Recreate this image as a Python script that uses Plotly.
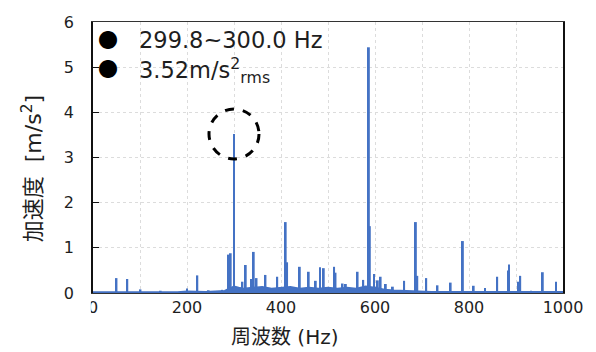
import plotly.graph_objects as go

# ---- data ----
peak_freq = [50, 73, 101, 144, 200, 222, 246, 275, 289, 293, 300, 318, 325, 337, 342, 348,
             367, 392, 410, 413, 440, 459, 474, 483, 491, 513, 516, 531, 538, 563, 575,
             587, 589, 598, 606, 612, 623, 638, 662, 687, 690, 709, 733, 761, 787, 810,
             834, 860, 883, 885, 905, 909, 932, 957, 985]
peak_amp = [0.33, 0.31, 0.08, 0.05, 0.10, 0.39, 0.06, 0.07, 0.85, 0.88, 3.52, 0.25, 0.62, 0.31, 0.91, 0.33,
            0.40, 0.36, 1.57, 0.68, 0.58, 0.47, 0.27, 0.57, 0.55, 0.58, 0.45, 0.21, 0.20, 0.47, 0.29,
            5.44, 1.48, 0.42, 0.28, 0.36, 0.20, 0.14, 0.27, 1.57, 0.38, 0.33, 0.17, 0.23, 1.15, 0.16,
            0.11, 0.36, 0.50, 0.63, 0.25, 0.38, 0.05, 0.46, 0.25]

floor_freq = [0, 20, 40, 60, 80, 100, 120, 140, 160, 180, 200, 220, 240, 260, 280, 290,
              300, 310, 320, 340, 360, 380, 400, 420, 440, 460, 480, 500, 520, 540, 560,
              580, 600, 620, 640, 660, 680, 700, 720, 740, 760, 780, 800, 820, 840, 860,
              880, 900, 920, 940, 960, 980, 1000]
floor_amp = [0.02, 0.02, 0.02, 0.02, 0.02, 0.03, 0.02, 0.03, 0.03, 0.02, 0.04, 0.03, 0.03, 0.04, 0.05, 0.10,
             0.15, 0.12, 0.10, 0.12, 0.14, 0.10, 0.12, 0.14, 0.10, 0.12, 0.10, 0.12, 0.10, 0.12, 0.10,
             0.15, 0.12, 0.08, 0.06, 0.05, 0.05, 0.04, 0.03, 0.03, 0.03, 0.03, 0.03, 0.03, 0.03, 0.04,
             0.04, 0.04, 0.03, 0.03, 0.03, 0.03, 0.03]

band_lo, band_hi = 299.8, 300.0
peak_rms = 3.52
marked_freq, marked_amp = 300, 3.52

x_ticks = [0, 200, 400, 600, 800, 1000]
y_ticks = [0, 1, 2, 3, 4, 5, 6]

BLUE = "#4472C4"
FONT = "DejaVu Sans, Noto Sans CJK JP"
CJK = "Noto Sans CJK JP"
GRID = "#dcdcdc"
TXT = "#1e1e1e"

fig = go.Figure()
fig.add_trace(go.Scatter(x=floor_freq, y=floor_amp, mode="lines", fill="tozeroy",
                         line=dict(color=BLUE, width=1.5), fillcolor=BLUE, hoverinfo="skip"))
fig.add_trace(go.Bar(x=peak_freq, y=peak_amp, width=4, marker=dict(color=BLUE, line=dict(width=0))))

fig.update_layout(
    width=596, height=352,
    margin=dict(l=93, r=33, t=22, b=59),
    paper_bgcolor="white", plot_bgcolor="white",
    showlegend=False,
    font=dict(family=FONT, color=TXT, size=16),
)
fig.update_xaxes(range=[0, 1000], tickvals=x_ticks, ticktext=[str(v) for v in x_ticks],
                 showgrid=True, gridcolor=GRID, griddash="dot", gridwidth=1,
                 minor=dict(dtick=100, showgrid=True, gridcolor=GRID, griddash="dot"),
                 showline=True, linecolor="#333", linewidth=1, mirror=True,
                 ticks="", tickfont=dict(size=16, family=FONT, color=TXT), zeroline=False)
fig.update_yaxes(range=[0, 6], tickvals=y_ticks,
                 showgrid=True, gridcolor=GRID, griddash="dot", gridwidth=1,
                 showline=True, linecolor="#111", linewidth=1.5, mirror=True,
                 ticks="inside", ticklen=6, tickcolor="#111",
                 ticklabelstandoff=14,
                 tickfont=dict(size=16, family=FONT, color=TXT), zeroline=False)

# dashed circle around marked peak
fig.add_shape(type="circle", xref="x", yref="y", xsizemode="pixel", ysizemode="pixel",
              xanchor=marked_freq, yanchor=marked_amp, x0=-25, x1=25, y0=-25, y1=25,
              line=dict(color="black", width=3, dash="dash"))

# partly hidden "0" tick label as in reference
fig.add_shape(type="rect", xref="paper", yref="paper", x0=-0.025, x1=-0.0045, y0=-0.09, y1=-0.005,
              fillcolor="white", line=dict(width=0), layer="above")

# axis titles
fig.add_annotation(text="周波数 (Hz)", xref="paper", yref="paper", x=0.408, y=-0.163,
                   showarrow=False, font=dict(size=20, family=FONT, color=TXT),
                   xanchor="center", yanchor="middle")
fig.add_annotation(text="加速度  [m/s<sup>2</sup>]", xref="paper", yref="paper", x=-0.13, y=0.46,
                   showarrow=False, textangle=-90, font=dict(size=22, family=FONT, color=TXT),
                   xanchor="center", yanchor="middle")

# info text
fig.add_annotation(text="●", xref="paper", yref="paper", x=0.032, y=0.934, showarrow=False,
                   font=dict(size=20, family=CJK, color="black"), xanchor="center", yanchor="middle")
fig.add_annotation(text="●", xref="paper", yref="paper", x=0.032, y=0.83, showarrow=False,
                   font=dict(size=20, family=CJK, color="black"), xanchor="center", yanchor="middle")
fig.add_annotation(text=f"{band_lo:.1f}~{band_hi:.1f} Hz", xref="paper", yref="paper",
                   x=0.093, y=0.934, showarrow=False, font=dict(size=22.5, family=FONT, color=TXT),
                   xanchor="left", yanchor="middle")
fig.add_annotation(text=f"{peak_rms:.2f}m/s<sup>2</sup><sub>rms</sub>", xref="paper", yref="paper",
                   x=0.093, y=0.82, showarrow=False, font=dict(size=22.5, family=FONT, color=TXT),
                   xanchor="left", yanchor="middle")

fig.write_html("out.html")
